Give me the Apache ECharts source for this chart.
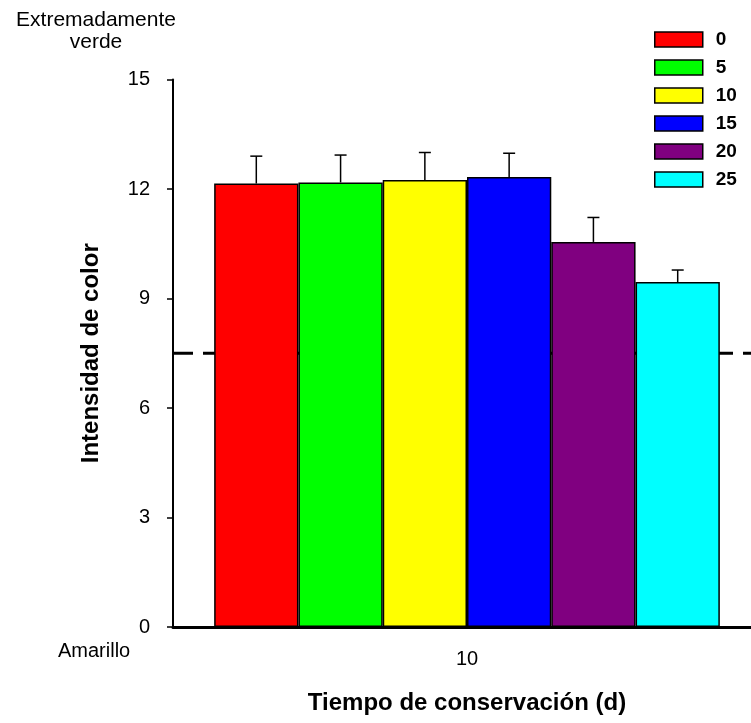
<!DOCTYPE html>
<html>
<head>
<meta charset="utf-8">
<title>Intensidad de color</title>
<script src="https://cdn.jsdelivr.net/npm/echarts@6/dist/echarts.min.js"></script>
<style>
  html, body { margin: 0; padding: 0; background: #fff; }
  #chart { width: 751px; height: 723px; }
</style>
</head>
<body>
<div id="chart"></div>
<script>
// Storage time groups (days) and the colour intensity reading for each
const categories = ['10'];
const seriesNames = ['0', '5', '10', '15', '20', '25'];
const means = [12.15, 12.18, 12.25, 12.33, 10.55, 9.45];
const errors = [0.75, 0.75, 0.75, 0.65, 0.67, 0.33];
const referenceLevel = 7.5;
const yTicks = [0, 3, 6, 9, 12, 15];

const colors = ['#ff0000', '#00ff00', '#ffff00', '#0000ff', '#800080', '#00ffff'];
const FONT = 'Liberation Sans, Arial, sans-serif';
const CATEGORY_GAP = 0.14;

const chart = echarts.init(document.getElementById('chart'), null, { renderer: 'canvas' });

const barSeries = seriesNames.map((name, i) => ({
  name: name,
  type: 'bar',
  xAxisIndex: 0,
  yAxisIndex: 0,
  data: [means[i]],
  barGap: '0%',
  barCategoryGap: (CATEGORY_GAP * 100) + '%',
  itemStyle: { color: colors[i], borderColor: '#000', borderWidth: 1.5 },
  z: 3
}));

// Upper error whiskers, one per bar
const errorData = seriesNames.map((_, i) => [0, means[i], means[i] + errors[i], i]);
const errorSeries = {
  name: 'error',
  type: 'custom',
  xAxisIndex: 0,
  yAxisIndex: 0,
  data: errorData,
  encode: { x: 0, y: 2 },
  z: 4,
  renderItem: function (params, api) {
    const idx = api.value(3);
    const base = api.coord([api.value(0), api.value(1)]);
    const top = api.coord([api.value(0), api.value(2)]);
    const band = api.size([1, 0])[0];
    const barW = band * (1 - CATEGORY_GAP) / seriesNames.length;
    const x = base[0] + (idx - (seriesNames.length - 1) / 2) * barW;
    const cap = 6;
    const style = { stroke: '#000', lineWidth: 1.5 };
    return {
      type: 'group',
      children: [
        { type: 'line', shape: { x1: x, y1: base[1], x2: x, y2: top[1] }, style: style },
        { type: 'line', shape: { x1: x - cap, y1: top[1], x2: x + cap, y2: top[1] }, style: style }
      ]
    };
  }
};

// Dashed reference level running behind the bars to the right edge
const refSeries = {
  name: 'ref',
  type: 'line',
  xAxisIndex: 1,
  yAxisIndex: 1,
  data: [[0, referenceLevel], [1, referenceLevel]],
  symbol: 'none',
  silent: true,
  lineStyle: { color: '#000', width: 3, type: [20, 10] },
  z: 1
};

chart.setOption({
  animation: false,
  backgroundColor: '#fff',
  grid: [
    { left: 173, width: 588, top: 79.5, bottom: 96, outerBoundsMode: 'none' },
    { left: 173, right: 0, top: 79.5, bottom: 96, outerBoundsMode: 'none' }
  ],
  legend: {
    data: seriesNames,
    orient: 'vertical',
    left: 649,
    top: 25,
    itemWidth: 48,
    itemHeight: 15,
    itemGap: 9,
    icon: 'rect',
    itemStyle: { borderColor: '#000', borderWidth: 1.5 },
    textStyle: { fontFamily: FONT, fontWeight: 'bold', fontSize: 19, color: '#000', padding: [0, 0, 0, 8] }
  },
  xAxis: [
    {
      type: 'category',
      gridIndex: 0,
      data: categories,
      name: 'Tiempo de conservación (d)',
      nameLocation: 'middle',
      nameGap: 64,
      nameTextStyle: { fontFamily: FONT, fontWeight: 'bold', fontSize: 24, color: '#000' },
      axisLine: { lineStyle: { color: '#000', width: 3 } },
      axisTick: { alignWithLabel: true, length: 7, lineStyle: { color: '#000', width: 1.5 } },
      axisLabel: { fontFamily: FONT, fontSize: 20, color: '#000', margin: 22 },
      splitLine: { show: false }
    },
    { type: 'value', gridIndex: 1, min: 0, max: 1, show: false }
  ],
  yAxis: [
    {
      type: 'value',
      gridIndex: 0,
      min: yTicks[0],
      max: yTicks[yTicks.length - 1],
      interval: yTicks[1] - yTicks[0],
      name: 'Intensidad de color',
      nameLocation: 'middle',
      nameGap: 70,
      nameTextStyle: { fontFamily: FONT, fontWeight: 'bold', fontSize: 24, color: '#000' },
      axisLine: { show: true, lineStyle: { color: '#000', width: 2 } },
      axisTick: { show: true, length: 6, lineStyle: { color: '#000', width: 1.5 } },
      axisLabel: { fontFamily: FONT, fontSize: 20, color: '#000', margin: 23 },
      splitLine: { show: false }
    },
    { type: 'value', gridIndex: 1, min: 0, max: 15, show: false }
  ],
  graphic: [
    {
      type: 'text', x: 96, y: 9,
      style: {
        text: 'Extremadamente\nverde', fontFamily: FONT, fontSize: 21, lineHeight: 22,
        fill: '#000', align: 'center', verticalAlign: 'top'
      }
    },
    {
      type: 'text', x: 58, y: 651,
      style: { text: 'Amarillo', fontFamily: FONT, fontSize: 20, fill: '#000', align: 'left', verticalAlign: 'middle' }
    }
  ],
  series: [refSeries].concat(barSeries, [errorSeries])
});
</script>
</body>
</html>
